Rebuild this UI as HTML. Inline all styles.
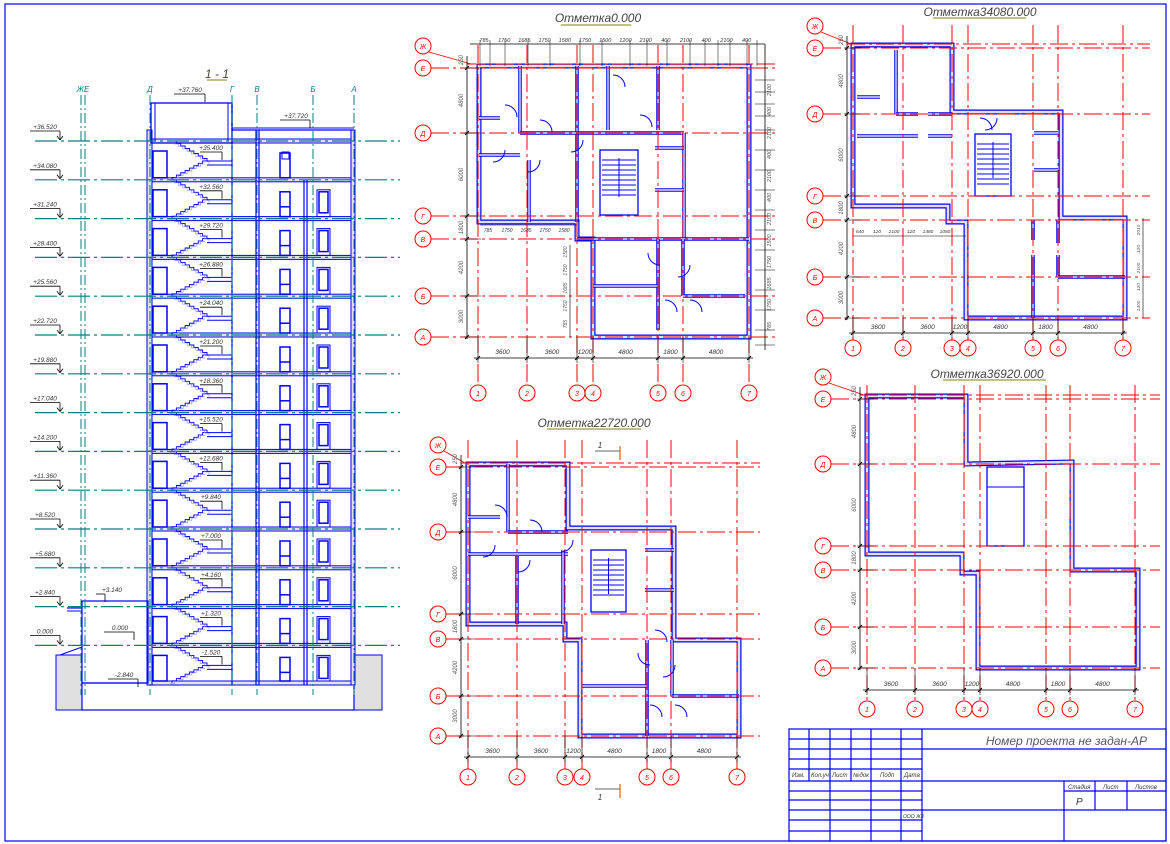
<!DOCTYPE html>
<html><head><meta charset="utf-8"><style>
html,body{margin:0;padding:0;background:#fff;}
svg{display:block;font-family:"Liberation Sans",sans-serif;}
</style></head><body>
<svg id="s" width="1170" height="844" viewBox="0 0 1170 844" xmlns="http://www.w3.org/2000/svg">
<rect x="0" y="0" width="1170" height="844" fill="#fff"/>
<rect x="5" y="4" width="1161" height="837" fill="none" stroke="#0000ff" stroke-width="1.2"/>
<g font-style="italic" fill="#444" font-size="12">
<text x="217" y="78" text-anchor="middle">1 - 1</text>
<text x="598" y="22" text-anchor="middle">Отметка0.000</text>
<text x="980" y="16" text-anchor="middle">Отметка34080.000</text>
<text x="594" y="427" text-anchor="middle">Отметка22720.000</text>
<text x="987" y="378" text-anchor="middle">Отметка36920.000</text>
</g>
<g stroke="#808000" stroke-width="1">
<line x1="207" y1="80" x2="227" y2="80"/>
<line x1="561" y1="25" x2="631" y2="25"/>
<line x1="933" y1="18" x2="1026" y2="18"/>
<line x1="547" y1="429" x2="641" y2="429"/>
<line x1="943" y1="380" x2="1046" y2="380"/>
</g>
<!-- title block -->
<g stroke="#0000ff" stroke-width="1.2" fill="none">
<rect x="789" y="729" width="377" height="112"/>
<line x1="922" y1="729" x2="922" y2="841"/>
<line x1="922" y1="749" x2="1166" y2="749"/>
<line x1="789" y1="781" x2="1166" y2="781"/>
<line x1="922" y1="810" x2="1166" y2="810"/>
<line x1="1064" y1="781" x2="1064" y2="841"/>
<line x1="1064" y1="791" x2="1166" y2="791"/>
<line x1="1095" y1="781" x2="1095" y2="810"/>
<line x1="1127" y1="781" x2="1127" y2="810"/>
<line x1="789" y1="739" x2="922" y2="739"/>
<line x1="789" y1="749" x2="922" y2="749"/>
<line x1="789" y1="759" x2="922" y2="759"/>
<line x1="789" y1="769" x2="922" y2="769"/>
<line x1="789" y1="791" x2="922" y2="791"/>
<line x1="789" y1="800" x2="922" y2="800"/>
<line x1="789" y1="810" x2="922" y2="810"/>
<line x1="789" y1="820" x2="922" y2="820"/>
<line x1="789" y1="831" x2="922" y2="831"/>
<line x1="809" y1="729" x2="809" y2="781"/>
<line x1="830" y1="729" x2="830" y2="841"/>
<line x1="851" y1="729" x2="851" y2="781"/>
<line x1="871" y1="729" x2="871" y2="841"/>
<line x1="901" y1="729" x2="901" y2="841"/>
</g>
<g font-style="italic" fill="#333" font-size="6">
<text x="792" y="777">Изм.</text><text x="811" y="777">Кол.уч</text><text x="832" y="777">Лист</text><text x="853" y="777">№док</text><text x="880" y="777">Подп</text><text x="904" y="777">Дата</text>
<text x="1068" y="789">Стадия</text><text x="1103" y="789">Лист</text><text x="1135" y="789">Листов</text>
<text x="903" y="818" font-size="5">ООО ЖЗ</text>
</g>
<text x="1076" y="805" font-style="italic" font-size="10" fill="#333">Р</text>
<text x="1147" y="745" text-anchor="end" font-style="italic" font-size="12" fill="#556">Номер проекта не задан-АР</text>
<g id="gen"></g>
</svg>
<script>
var h='';
function L(x1,y1,x2,y2,c,w,d){h+='<line x1="'+x1+'" y1="'+y1+'" x2="'+x2+'" y2="'+y2+'" stroke="'+c+'" stroke-width="'+(w||1)+'"'+(d?' stroke-dasharray="'+d+'"':'')+'/>';}
function R(x,y,w,hh,c,sw,f){h+='<rect x="'+x+'" y="'+y+'" width="'+w+'" height="'+hh+'" stroke="'+c+'" stroke-width="'+(sw||1)+'" fill="'+(f||'none')+'"/>';}
function T(x,y,t,s,c,a,rot){h+='<text x="'+x+'" y="'+y+'" font-size="'+s+'" fill="'+c+'" font-style="italic" text-anchor="'+(a||'middle')+'"'+(rot?' transform="rotate('+rot+' '+x+' '+y+')"':'')+'>'+t+'</text>';}
function PL(pts,c,w,f,close){h+='<'+(close?'polygon':'polyline')+' points="'+pts.map(p=>p.join(',')).join(' ')+'" stroke="'+c+'" stroke-width="'+w+'" fill="'+(f||'none')+'" stroke-linejoin="miter"/>';}
function C(x,y,r,c){h+='<circle cx="'+x+'" cy="'+y+'" r="'+r+'" stroke="'+c+'" stroke-width="1" fill="#fff"/>';}
var B='#0000ff',RD='#ff0000',TL='#008080',K='#000';
var DD='18 4 3 4';

/* ---------- SECTION ---------- */
var lv=[];for(var i=0;i<14;i++)lv.push(141+i*38.8);
var elev=['+36.520','+34.080','+31.240','+28.400','+25.560','+22.720','+19.880','+17.040','+14.200','+11.360','+8.520','+5.680','+2.840','0.000'];
var land=['+35.400','+32.560','+29.720','+26.880','+24.040','+21.200','+18.360','+15.520','+12.680','+9.840','+7.000','+4.160','+1.320','-1.520'];
R(56,655,26,55,B,1,'#e0e0e0');R(354,655,28,55,B,1,'#e0e0e0');
R(82,683,272,27,B,1.2);
lv.concat([683]).forEach(function(y){R(147,y-2,207,4,B,1,'#e4e4e4');});
R(147,130,5,555,B,1,'#e0e0e0');R(351,130,4,555,B,1,'#e0e0e0');
L(232,103,232,685,B,1.3);L(256,130,256,685,B,1.2);L(259,130,259,685,B,1.2);
L(304,180,304,685,B,1.2);L(307,180,307,685,B,1.2);
R(151,103,81,40,B,1.3);L(155,103,155,141,B,1);L(228,103,228,141,B,1);
L(232,130,354,130,B,1.3);L(232,128,354,128,B,1);
for(var i=0;i<14;i++){var y0=lv[i],y1=(i<13?lv[i+1]:683),ym=y0+20;
 var p1=[],p2=[],n=8;
 for(var k=0;k<=n;k++){var x=172+k*35/n,y=y0+k*(ym-y0)/n;p1.push([x,y]);if(k<n)p1.push([x+35/n,y]);}
 for(var k=0;k<=n;k++){var x=207-k*35/n,y=ym+k*(y1-ym)/n;p2.push([x,y]);if(k<n)p2.push([x-35/n,y]);}
 PL(p1,B,0.9);PL(p2,B,0.9);
 PL(p1.map(p=>[p[0]+2,p[1]+3]),'#8888ff',0.6);PL(p2.map(p=>[p[0]-2,p[1]+3]),'#8888ff',0.6);
 L(207,ym,232,ym,B,1);L(207,ym+4,232,ym+4,B,1);
 R(153,y0+10,14,y1-y0-12,B,1.5);
 R(280,y0+12,10,y1-y0-14,B,1.5);
 if(i==0){R(282,y0+11,7,7,B,1);}else{L(280,y0+27,290,y0+27,B,1.5);R(319,y0+12,9,21,B,1.5);R(317,y0+10,13,y1-y0-12,B,1);}
 L(200,y0+11,222,y0+11,K,0.8);L(222,y0+11,222,y0+19,K,0.8);T(211,y0+9,land[i],6.5,'#333');
}
R(82,601,66,82,B,1.2);L(67,608,82,608,B,1.2);L(67,611,82,611,B,1);L(60,655,82,647,B,1);
[[81,'ЖЕ'],[85,''],[150,'Д'],[232,'Г'],[257,'В'],[313,'Б'],[354,'А']].forEach(function(a){L(a[0],95,a[0],695,TL,1,'10 3 2 3');if(a[1])T(a[0]+(a[1]=='ЖЕ'?2:0),92,a[1],8,TL);});
lv.forEach(function(y,i){L(35,y,400,y,TL,1.2,'22 4 3 4');
 var x0=30;L(x0,y-10,60,y-10,K,0.8);L(60,y-10,60,y-2,K,0.8);L(57,y-5,60,y-1,K,0.8);L(63,y-5,60,y-1,K,0.8);T(45,y-12,elev[i],6.5,'#333');});
[[190,92,'+37.760',205],[296,118,'+37.720',310],[112,592,'+3.140',105],[120,630,'0.000',134],[124,677,'-2.840',138]].forEach(function(m){L(m[0]-16,m[1]+2,m[3],m[1]+2,K,0.8);L(m[3],m[1]+2,m[3],m[1]+10,K,0.8);T(m[0],m[1],m[2],6.5,'#333');});

/* ---------- PLANS ---------- */
function plan(o){
 var c=o.cols,r=o.rows;
 PL(o.out,B,5,'none',true);PL(o.out,'#e0e0e0',2.6,'none',true);
 (o.inner||[]).forEach(function(s){L(s[0],s[1],s[2],s[3],B,3.5);L(s[0],s[1],s[2],s[3],'#e6e6e6',1.4);});
 if(o.st){var s=o.st;R(s[0],s[1],s[2],s[3],B,1.3);for(var k=1;k<(s[4]||0);k++){L(s[0]+2,s[1]+5+k*5,s[0]+s[2]-2,s[1]+5+k*5,B,1);}if(s[4]){L(s[0]+s[2]/2,s[1]+8,s[0]+s[2]/2,s[1]+s[3]-18,B,1);}}
 (o.doors||[]).forEach(function(d){h+='<path d="M'+d[0]+' '+d[1]+' a12 12 0 0 1 12 12" stroke="'+B+'" stroke-width="1" fill="none" transform="rotate('+(d[2]||0)+' '+d[0]+' '+d[1]+')"/>';});
 c.forEach(function(x){L(x,o.top,x,o.by-8,RD,1,DD);});
 r.forEach(function(y){L(o.bx+8,y,o.right,y,RD,1,DD);});
 L(o.dx,r[0]-4,o.right,r[0]-4,RD,1,DD);
 var rl=['Е','Д','Г','В','Б','А'];
 r.forEach(function(y,i){C(o.bx,y,8,RD);T(o.bx,y+3,rl[i],7,RD);});
 C(o.bx,r[0]-22,8,RD);T(o.bx,r[0]-19,'Ж',7,RD);L(o.bx+6,r[0]-16,o.dx+4,r[0]-4,RD,0.8);
 ['1','2','3','4','5','6','7'].forEach(function(t,i){C(c[i],o.by,8,RD);T(c[i],o.by+3,t,7,RD);});
 L(c[0]-4,o.dy,c[6]+4,o.dy,K,0.8);
 c.forEach(function(x){L(x,r[5],x,o.dy+5,K,0.6);L(x-2,o.dy+2,x+2,o.dy-2,K,1);});
 var dl=['3600','3600','1200','4800','1800','4800'];
 for(var i=0;i<6;i++)T((c[i]+c[i+1])/2,o.dy-4,dl[i],6.5,'#333');
 L(o.dx,r[0]-12,o.dx,r[5]+2,K,0.8);
 r.forEach(function(y){L(o.dx-3,y,o.dx+14,y,K,0.6);L(o.dx-2,y+2,o.dx+2,y-2,K,1);});
 var vl=['4800','6000','1800','4200','3000'];
 for(var i=0;i<5;i++)T(o.dx-4,(r[i]+r[i+1])/2,vl[i],6,'#555','middle',-90);
 T(o.dx-4,r[0]-8,'250',6,'#555','middle',-90);
}
plan({cols:[478,527,577,593,658,683,749],rows:[68,133,216,239,296,337],bx:423,by:393,dx:467,dy:358,top:45,right:775,
 out:[[479,66],[749,66],[749,337],[593,337],[593,239],[577,239],[577,222],[479,222]],
 inner:[[577,66,577,222],[520,66,520,133],[520,133,577,133],[577,133,684,133],[684,133,684,239],[577,239,749,239],[529,160,529,222],[479,155,520,155],[479,118,500,118],[608,66,608,130],[658,66,658,130],[658,239,658,330],[683,239,683,296],[683,296,745,296],[593,286,658,286],[655,148,684,148],[655,190,684,190]],
 st:[600,150,38,65,9],
 doors:[[505,105,0],[540,120,0],[505,150,90],[540,160,90],[613,75,0],[640,115,0],[583,140,90],[660,265,180],[690,265,90],[665,300,0],[690,300,0]]});
L(470,44,765,44,K,0.8);[480,490,505,528,550,580,602,630,647,667,690,705,718,730,747,757].forEach(function(x){L(x,40,x,66,K,0.5);});
['785','1750','1685','1750','1580','1750','1500','1200','2100','400','2100','400','2100','400'].forEach(function(t,i){T(484+i*20.2,42,t,5.5,'#333');});
L(765,44,765,350,K,0.8);[80,92,104,116,130,150,170,190,210,230,250,270,290,310,330,345].forEach(function(y){L(755,y,775,y,K,0.5);});
['2100','400','2100','400','2100','400','2100','1500','1750','1685','1750','785'].forEach(function(t,i){T(771,90+i*21.5,t,5.5,'#555','middle',-90);});
L(480,225,577,225,K,0.6);['785','1750','1685','1750','1580'].forEach(function(t,i){T(488+i*19,232,t,5,'#333');});
L(570,245,570,337,K,0.6);['1580','1750','1685','1750','785'].forEach(function(t,i){T(567,252+i*18,t,5,'#555','middle',-90);});
plan({cols:[853,903,952,968,1033,1058,1123],rows:[48,114,196,220,277,318],bx:815,by:348,dx:847,dy:333,top:25,right:1150,
 out:[[853,45],[952,45],[952,112],[1061,112],[1061,218],[1125,218],[1125,318],[966,318],[966,222],[948,222],[948,206],[853,206]],
 inner:[[896,50,896,114],[896,114,918,114],[928,114,952,114],[857,136,918,136],[928,136,952,136],[857,97,880,97],[1033,220,1033,240],[1033,255,1033,318],[1058,220,1058,243],[1058,255,1058,277],[1058,277,1125,277],[1034,133,1058,133],[1034,170,1058,170]],
 st:[975,134,36,62,10],doors:[[980,118,0],[997,118,90]]});
L(853,236,966,236,K,0.6);['640','120','2100','120','1480','1080'].forEach(function(t,i){T(860+i*17,233,t,4.8,'#333');});
L(1143,218,1143,318,K,0.6);['2010','120','2100','120','1400'].forEach(function(t,i){T(1140,230+i*19,t,4.8,'#555','middle',-90);});
plan({cols:[468,517,565,582,647,671,737],rows:[467,532,614,639,696,736],bx:438,by:777,dx:461,dy:757,top:440,right:760,
 out:[[468,464],[568,464],[568,528],[674,528],[674,640],[739,640],[739,736],[580,736],[580,640],[565,640],[565,624],[468,624]],
 inner:[[508,464,508,532],[508,532,568,532],[468,517,500,517],[468,554,568,554],[517,556,517,624],[563,550,563,624],[647,640,647,736],[672,640,672,696],[672,696,739,696],[582,686,647,686],[645,550,674,550],[645,590,674,590]],
 st:[591,550,35,62,9],doors:[[495,505,0],[530,520,0],[495,545,90],[530,560,90],[573,540,90],[655,630,0],[650,665,180],[675,665,90],[650,705,0],[675,705,0]]});
L(595,451,620,451,'#333',0.8);L(620,446,620,460,'#e86000',1.2);T(600,448,'1',8,'#333');
L(595,789,620,789,'#333',0.8);L(620,784,620,798,'#e86000',1.2);T(600,800,'1',8,'#333');
plan({cols:[867,915,964,980,1046,1070,1135],rows:[399,464,546,570,627,668],bx:823,by:709,dx:860,dy:690,top:385,right:1160,
 out:[[867,396],[966,396],[966,464],[1072,462],[1072,570],[1138,570],[1138,668],[978,668],[978,573],[962,573],[962,554],[867,554]],
 inner:[],st:[987,467,37,79,0]});
L(987,487,1024,487,B,1);
document.getElementById('gen').innerHTML=h;
</script>
</body></html>
